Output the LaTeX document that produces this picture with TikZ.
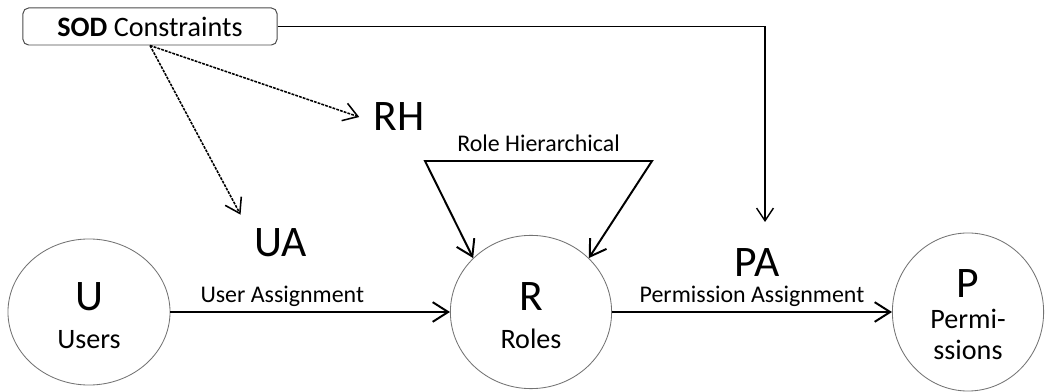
\documentclass[tikz,border=0pt]{standalone}
\usepackage{fontspec}
\setmainfont{Carlito}
\usetikzlibrary{positioning,arrows.meta,shapes.geometric}

\begin{document}
\begin{tikzpicture}[x=0.025cm, y=-0.025cm,
  every node/.style = {font=\fontsize{17}{20}\selectfont, inner sep=3pt},
  set/.style = {ellipse, draw=black!55, line width=0.6pt, align=center,
    inner sep=0pt, font=\fontsize{20}{26.5}\selectfont},
  tag/.style = {font=\fontsize{31}{35}\selectfont, inner sep=10pt},
  assign/.style = {line width=1.4pt, -{Straight Barb[length=11pt,width=14pt]}},
  hier/.style = {line width=1.4pt,
    {Straight Barb[length=11pt,width=14pt]}-{Straight Barb[length=11pt,width=14pt]}},
  sod/.style = {line width=1.1pt, dash pattern=on 2pt off 0.8pt,
    -{Straight Barb[length=10pt,width=13pt]}}
  ]
  \useasboundingbox (0,0) rectangle (1045,392);

  % the three sets
  \node[set, minimum width=4.05cm, minimum height=3.65cm] (U) at (89,312)
    {\rule{0pt}{25pt}{\fontsize{31}{35}\selectfont U}\\Users};
  \node[set, minimum width=4.03cm, minimum height=3.83cm] (R) at (531,312)
    {\rule{0pt}{25pt}{\fontsize{31}{35}\selectfont R}\\Roles};
  \node[set, minimum width=3.78cm, minimum height=3.95cm] (P) at (968,312)
    {\rule{0pt}{24pt}{\fontsize{31}{35}\selectfont P}\\[-5pt]Permi-\\[-4pt]ssions};

  \node[draw=black!70, line width=0.7pt, rounded corners=4pt,
    minimum width=6.35cm, minimum height=0.925cm,
    font=\fontsize{20}{24}\selectfont] (SOD) at (150,26.5)
    {\textbf{SOD} Constraints};

  \node[tag, anchor=base] (UA) at (281,257) {UA};
  \node[tag, anchor=base] (RH) at (399,131) {RH};
  \node[tag, anchor=base] (PA) at (757,277) {PA};

  \coordinate (paTop) at (765,222);
  \coordinate (rhL) at (425,161);
  \coordinate (rhR) at (652,161);

  % relations
  \draw[assign] (U) -- node[pos=.4, above] {User Assignment} (R);
  \draw[assign] (R) -- node[midway, above] {Permission Assignment} (P);
  \draw[hier] (R.137) -- (rhL) -- node[above=3pt] {Role Hierarchical} (rhR) -- (R.43);

  % constraints
  \draw[line width=1pt, -{Straight Barb[length=9pt,width=12pt]}] (SOD.east) -| (paTop);
  \draw[sod] (SOD.south) -- (RH.west);
  \draw[sod] (SOD.south) -- (UA.north west);
\end{tikzpicture}
\end{document}
